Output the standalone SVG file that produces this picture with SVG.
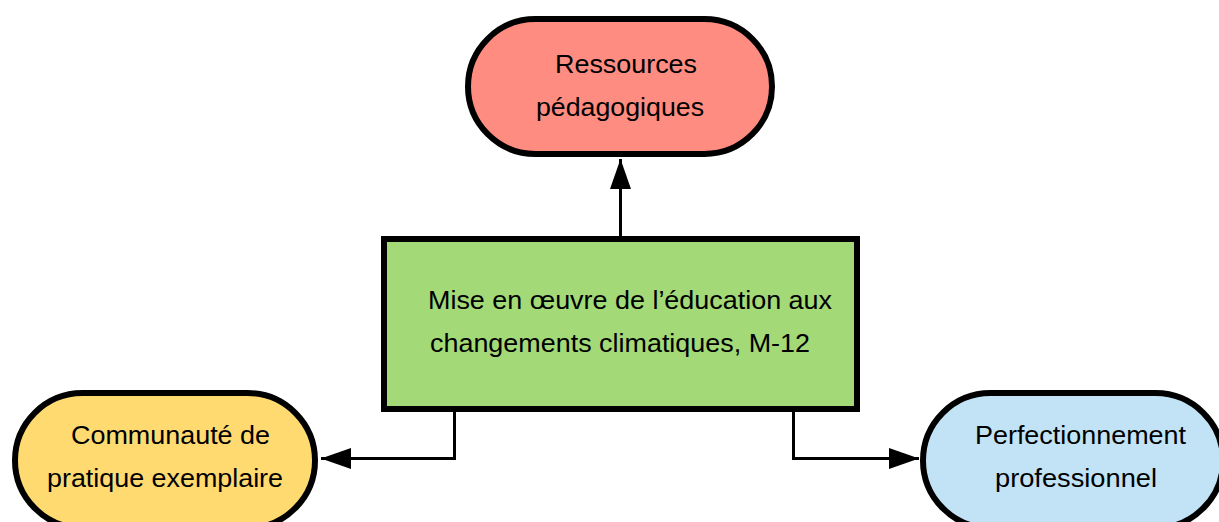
<svg xmlns="http://www.w3.org/2000/svg" width="1219" height="522" viewBox="0 0 1219 522">
<defs>
<style>
.node{stroke:#000;stroke-width:6}
.lbl{font-family:"Liberation Sans",Arial,sans-serif;font-size:25px;fill:#000}
.conn{fill:none;stroke:#000;stroke-width:3}
</style>
<marker id="arr" viewBox="0 0 30 21" refX="30" refY="10.5" markerWidth="30" markerHeight="21" markerUnits="userSpaceOnUse" orient="auto">
<path d="M0,0 L30,10.5 L0,21 Z" fill="#000"/>
</marker>
</defs>
<rect width="1219" height="522" fill="#fff"/>
<g id="connectors">
<path class="conn" d="M620.5,236 V159" marker-end="url(#arr)"/>
<path class="conn" d="M454.5,411 V458.5 H321" marker-end="url(#arr)"/>
<path class="conn" d="M793.5,411 V458.5 H919" marker-end="url(#arr)"/>
</g>
<g id="ressources">
<rect class="node" x="468" y="19" width="304" height="135" rx="67.5" fill="#FF8C80"/>
<text class="lbl" x="555" y="73" textLength="142" lengthAdjust="spacingAndGlyphs">Ressources</text>
<text class="lbl" x="536" y="116" textLength="168" lengthAdjust="spacingAndGlyphs">pédagogiques</text>
</g>
<g id="mise-en-oeuvre">
<rect class="node" x="384" y="239" width="473" height="170" fill="#A3D977"/>
<text class="lbl" x="428" y="309" textLength="404" lengthAdjust="spacingAndGlyphs">Mise en œuvre de l’éducation aux</text>
<text class="lbl" x="430" y="352" textLength="380" lengthAdjust="spacingAndGlyphs">changements climatiques, M-12</text>
</g>
<g id="communaute">
<rect class="node" x="15" y="393" width="300" height="135" rx="67.5" fill="#FFDA70"/>
<text class="lbl" x="71" y="444" textLength="199" lengthAdjust="spacingAndGlyphs">Communauté de</text>
<text class="lbl" x="47" y="487" textLength="236" lengthAdjust="spacingAndGlyphs">pratique exemplaire</text>
</g>
<g id="perfectionnement">
<rect class="node" x="923" y="393" width="300" height="135" rx="67.5" fill="#C2E3F5"/>
<text class="lbl" x="975" y="444" textLength="211" lengthAdjust="spacingAndGlyphs">Perfectionnement</text>
<text class="lbl" x="995" y="487" textLength="162" lengthAdjust="spacingAndGlyphs">professionnel</text>
</g>
</svg>
